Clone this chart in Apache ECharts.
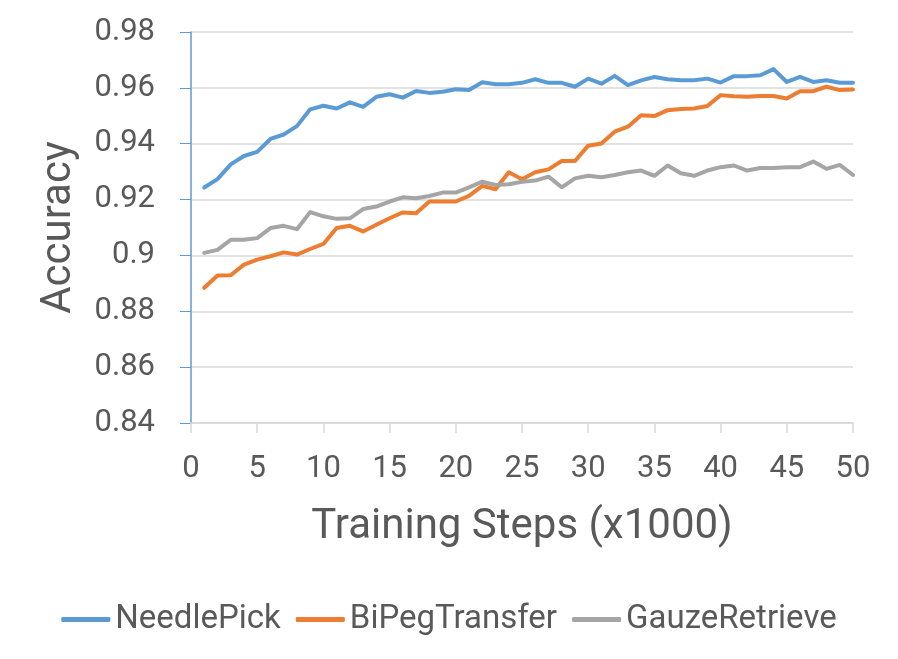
<!DOCTYPE html>
<html>
<head>
<meta charset="utf-8">
<script src="https://cdn.jsdelivr.net/npm/echarts@6/dist/echarts.min.js"></script>
<style>
  html, body { margin: 0; padding: 0; background: #fff; }
  #chartDom { width: 898px; height: 659px; }
</style>
</head>
<body>
<div id="chartDom"></div>
<script>
// training steps (x1000)
const steps = [];
for (let i = 1; i <= 50; i++) steps.push(i);

const needlePick = [
  0.9243, 0.9273, 0.9326, 0.9356, 0.9371, 0.9417, 0.9433, 0.9463, 0.9523, 0.9536,
  0.9526, 0.9548, 0.9532, 0.9568, 0.9577, 0.9565, 0.9589, 0.9582, 0.9586, 0.9595,
  0.9592, 0.9620, 0.9613, 0.9613, 0.9618, 0.9631, 0.9618, 0.9618, 0.9604, 0.9633,
  0.9615, 0.9643, 0.9610, 0.9627, 0.9639, 0.9631, 0.9627, 0.9627, 0.9633, 0.9619,
  0.9642, 0.9642, 0.9645, 0.9667, 0.9621, 0.9639, 0.9621, 0.9627, 0.9618, 0.9618
];
const biPegTransfer = [
  0.8884, 0.8928, 0.8929, 0.8967, 0.8985, 0.8997, 0.9011, 0.9003, 0.9023, 0.9041,
  0.9098, 0.9106, 0.9086, 0.9110, 0.9133, 0.9154, 0.9151, 0.9193, 0.9193, 0.9193,
  0.9213, 0.9249, 0.9237, 0.9298, 0.9273, 0.9298, 0.9308, 0.9338, 0.9338, 0.9393,
  0.9401, 0.9443, 0.9461, 0.9502, 0.9499, 0.9520, 0.9524, 0.9526, 0.9535, 0.9574,
  0.9570, 0.9568, 0.9571, 0.9571, 0.9562, 0.9588, 0.9588, 0.9604, 0.9592, 0.9594
];
const gauzeRetrieve = [
  0.9009, 0.9020, 0.9056, 0.9056, 0.9062, 0.9098, 0.9106, 0.9094, 0.9155, 0.9140,
  0.9131, 0.9133, 0.9166, 0.9175, 0.9193, 0.9208, 0.9205, 0.9213, 0.9225, 0.9225,
  0.9244, 0.9264, 0.9252, 0.9255, 0.9264, 0.9268, 0.9282, 0.9244, 0.9276, 0.9285,
  0.9280, 0.9288, 0.9298, 0.9304, 0.9285, 0.9322, 0.9294, 0.9285, 0.9304, 0.9316,
  0.9322, 0.9304, 0.9313, 0.9313, 0.9316, 0.9316, 0.9336, 0.9310, 0.9324, 0.9288
];

const seriesNames = ['NeedlePick', 'BiPegTransfer', 'GauzeRetrieve'];
const seriesColors = ['#5B9BD5', '#ED7D31', '#A5A5A5'];
const seriesData = [needlePick, biPegTransfer, gauzeRetrieve];

const font = "Roboto, 'Noto Sans', sans-serif";
const textColor = '#595959';

const chart = echarts.init(document.getElementById('chartDom'));
chart.setOption({
  animation: false,
  textStyle: { fontFamily: font },
  grid: { left: 191, right: 45, top: 32, bottom: 236 },
  legend: {
    top: 598,
    left: 'center',
    itemWidth: 49,
    itemHeight: 5,
    itemGap: 15,
    icon: 'roundRect',
    textStyle: { fontSize: 33, color: textColor, fontFamily: font },
    data: seriesNames
  },
  xAxis: {
    type: 'value',
    min: 0,
    max: 50,
    interval: 5,
    name: 'Training Steps (x1000)',
    nameLocation: 'middle',
    nameGap: 83,
    nameTextStyle: { fontSize: 42, color: textColor, fontFamily: font },
    axisLine: { show: true, lineStyle: { color: '#D9D9D9', width: 1.5 } },
    axisTick: { show: true, length: 10, lineStyle: { color: '#D9D9D9', width: 1.5 } },
    axisLabel: { fontSize: 31, color: textColor, margin: 31, fontFamily: font },
    splitLine: { show: false }
  },
  yAxis: {
    type: 'value',
    min: 0.84,
    max: 0.98,
    interval: 0.02,
    name: 'Accuracy',
    nameLocation: 'middle',
    nameGap: 111,
    nameTextStyle: { fontSize: 42, color: textColor, fontFamily: font },
    axisLine: { show: true, lineStyle: { color: '#5B9BD5', width: 1.5 } },
    axisTick: { show: true, length: 11, lineStyle: { color: '#5B9BD5', width: 1 } },
    axisLabel: {
      fontSize: 31,
      color: textColor,
      margin: 36,
      fontFamily: font,
      formatter: v => String(parseFloat(v.toFixed(2)))
    },
    splitLine: { show: true, lineStyle: { color: '#D9D9D9', width: 1.5 } }
  },
  series: seriesNames.map((name, i) => ({
    name: name,
    type: 'line',
    data: steps.map((s, j) => [s, seriesData[i][j]]),
    showSymbol: false,
    symbol: 'none',
    color: seriesColors[i],
    lineStyle: { width: 4, color: seriesColors[i], cap: 'round', join: 'round' }
  }))
});
</script>
</body>
</html>
